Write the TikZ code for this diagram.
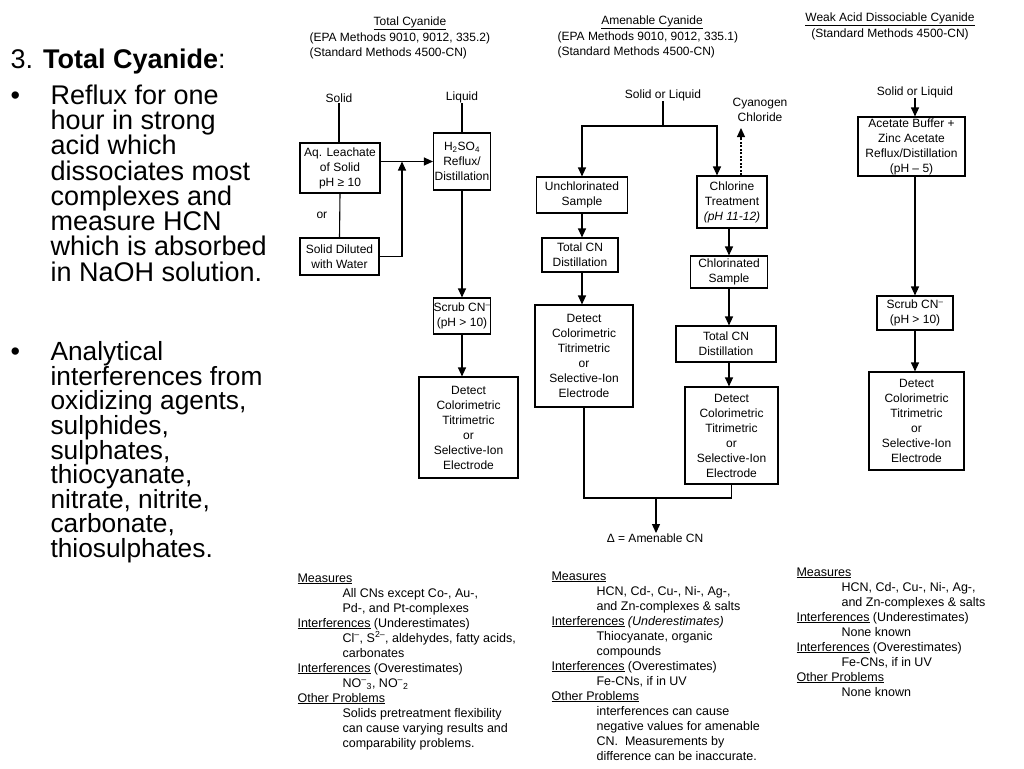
\documentclass[tikz,border=0pt]{standalone}
\usepackage{fontspec}
\setmainfont{Liberation Sans}
\usetikzlibrary{arrows.meta, positioning, calc}

\newcommand\chartfont{\fontsize{12}{15}\selectfont}
\newcommand\notefont{\fontsize{12.5}{15}\selectfont}
\newcommand\slidefont{\fontsize{27}{25.3}\selectfont}
\newcommand\noteind{\hspace*{45pt}}

\begin{document}
\begin{tikzpicture}[x=1pt, y=-1pt, line width=1.1pt, >={Triangle[length=9pt,width=8pt]},
    stepbox/.style={draw, align=center, inner sep=0pt, font=\chartfont},
    lbl/.style={align=center, inner sep=0pt, font=\chartfont},
    note/.style={align=left, inner sep=0pt, anchor=north west, font=\notefont},
    slide/.style={align=left, inner sep=0pt, font=\slidefont}]

  \useasboundingbox (0,0) rectangle (1024,768);

  % slide text
  \node[slide, anchor=base west] (head) at (10,68) {3. \textbf{Total Cyanide}:};
  \node[slide, anchor=base west] (dotA) at (10,104) {\textbullet};
  \node[slide, anchor=north west] (bulA) at (50,84) {Reflux for one\\hour in strong\\acid which\\dissociates most\\complexes and\\measure HCN\\which is absorbed\\in NaOH solution.};
  \node[slide, anchor=base west] (dotB) at (10,360) {\textbullet};
  \node[slide, anchor=north west, font=\fontsize{26.3}{24.6}\selectfont] (bulB) at (50,341) {Analytical\\interferences from\\oxidizing agents,\\sulphides,\\sulphates,\\thiocyanate,\\nitrate, nitrite,\\carbonate,\\thiosulphates.};

  % total cyanide
  \node[lbl] (tcTitle) at (410,23) {\underline{Total Cyanide}};
  \node[lbl, anchor=west, align=left] (tcRef) at (309,45.5) {(EPA Methods 9010, 9012, 335.2)\\(Standard Methods 4500-CN)};
  \node[lbl] (tcSolid) at (339,98) {Solid};
  \node[lbl] (tcLiquid) at (462,97) {Liquid};
  \node[stepbox, minimum width=80, minimum height=50] (aq) at (340,168) {Aq. Leachate\\of Solid\\pH ≥ 10};
  \node[stepbox, minimum width=57, minimum height=57] (hso) at (462,161.5) {H\textsubscript{2}SO\textsubscript{4}\\Reflux/\\Distillation};
  \node[stepbox, minimum width=79, minimum height=37] (dil) at (339.5,256.5) {Solid Diluted\\with Water};
  \node[stepbox, minimum width=57, minimum height=36] (scrubA) at (462,316) {Scrub CN\textsuperscript{--}\\(pH > 10)};
  \node[stepbox, minimum width=99, minimum height=101] (detA) at (468.5,427.5) {Detect\\Colorimetric\\Titrimetric\\or\\Selective-Ion\\Electrode};
  \coordinate (tcJoin) at (402,161.5);

  \draw (tcSolid.south) -- (tcSolid.south |- aq.north);
  \draw (tcLiquid.south) -- (hso.north);
  \draw[->] (aq.east |- hso.west) -- (hso.west);
  \draw (aq.south) -- node[lbl, left=12pt] (orLbl) {or} (dil.north);
  \draw[->] (dil.east) -| (tcJoin);
  \draw[->] (hso.south) -- (scrubA.north);
  \draw[->] (scrubA.south) -- (scrubA.south |- detA.north);

  % amenable cyanide
  \node[lbl] (acTitle) at (652,22) {\underline{Amenable Cyanide}};
  \node[lbl, anchor=west, align=left] (acRef) at (557,44.5) {(EPA Methods 9010, 9012, 335.1)\\(Standard Methods 4500-CN)};
  \node[lbl] (acIn) at (663,95) {Solid or Liquid};
  \node[lbl] (cncl) at (760,110) {Cyanogen\\Chloride};
  \coordinate (acSplit) at (663,126);
  \coordinate (cnclTip) at (741,128);
  \node[stepbox, minimum width=91, minimum height=36] (unch) at (582,195) {Unchlorinated\\Sample};
  \node[stepbox, minimum width=76, minimum height=34] (totA) at (580,255) {Total CN\\Distillation};
  \node[stepbox, minimum width=98, minimum height=102] (detB) at (584,356) {Detect\\Colorimetric\\Titrimetric\\or\\Selective-Ion\\Electrode};
  \node[stepbox, minimum width=70, minimum height=52] (chl) at (732,202) {Chlorine\\Treatment\\\textit{(pH 11-12)}};
  \node[stepbox, minimum width=77, minimum height=32] (chld) at (729,272) {Chlorinated\\Sample};
  \node[stepbox, minimum width=100, minimum height=36] (totB) at (726,344) {Total CN\\Distillation};
  \node[stepbox, minimum width=93, minimum height=97] (detC) at (731.5,435.5) {Detect\\Colorimetric\\Titrimetric\\or\\Selective-Ion\\Electrode};
  \node[lbl] (amen) at (655,538) {Δ = Amenable CN};
  \coordinate (acMerge) at (656,498);

  \draw (acIn.south) -- (acSplit);
  \draw[->] (acSplit) -| (unch.north);
  \draw[->] (acSplit) -| ([xshift=-15pt]chl.north);
  \draw[->, dash pattern=on 2pt off 1.5pt] (cnclTip |- chl.north) -- (cnclTip);
  \draw[->] (unch.south) -- (unch.south |- totA.north);
  \draw[->] (unch.south |- totA.south) -- (unch.south |- detB.north);
  \draw[->] (chld.north |- chl.south) -- (chld.north);
  \draw[->] (chld.south) -- (chld.south |- totB.north);
  \draw[->] (chld.south |- totB.south) -- (chld.south |- detC.north);
  \draw (detB.south) |- (acMerge) -| (detC.south);
  \draw[->] (acMerge) -- (acMerge |- amen.north);

  % weak acid dissociable cyanide
  \node[lbl] (wadTitle) at (890,19) {\underline{Weak Acid Dissociable Cyanide}};
  \node[lbl] (wadRef) at (890,34) {(Standard Methods 4500-CN)};
  \node[lbl] (wadIn) at (915,92) {Solid or Liquid};
  \node[stepbox, minimum width=107, minimum height=59] (acet) at (911.5,146.5) {Acetate Buffer +\\Zinc Acetate\\Reflux/Distillation\\(pH -- 5)};
  \node[stepbox, minimum width=76, minimum height=34] (scrubB) at (915,313) {Scrub CN\textsuperscript{--}\\(pH > 10)};
  \node[stepbox, minimum width=95, minimum height=98] (detD) at (916.5,421) {Detect\\Colorimetric\\Titrimetric\\or\\Selective-Ion\\Electrode};

  \draw[->] (wadIn.south) -- (wadIn.south |- acet.north);
  \draw[->] (wadIn.south |- acet.south) -- (scrubB.north);
  \draw[->] (scrubB.south) -- (scrubB.south |- detD.north);

  % notes
  \node[note] (tcNote) at (297,573) {\underline{Measures}\\\noteind All CNs except Co-, Au-,\\\noteind Pd-, and Pt-complexes\\\underline{Interferences} (Underestimates)\\\noteind Cl\textsuperscript{--}, S\textsuperscript{2--}, aldehydes, fatty acids,\\\noteind carbonates\\\underline{Interferences} (Overestimates)\\\noteind NO\textsuperscript{--}\textsubscript{3}, NO\textsuperscript{--}\textsubscript{2}\\\underline{Other Problems}\\\noteind Solids pretreatment flexibility\\\noteind can cause varying results and\\\noteind comparability problems.};
  \node[note] (acNote) at (551,571) {\underline{Measures}\\\noteind HCN, Cd-, Cu-, Ni-, Ag-,\\\noteind and Zn-complexes \& salts\\\underline{Interferences} \textit{(Underestimates)}\\\noteind Thiocyanate, organic\\\noteind compounds\\\underline{Interferences} (Overestimates)\\\noteind Fe-CNs, if in UV\\\underline{Other Problems}\\\noteind interferences can cause\\\noteind negative values for amenable\\\noteind CN.\ \ Measurements by\\\noteind difference can be inaccurate.};
  \node[note] (wadNote) at (796,567) {\underline{Measures}\\\noteind HCN, Cd-, Cu-, Ni-, Ag-,\\\noteind and Zn-complexes \& salts\\\underline{Interferences} (Underestimates)\\\noteind None known\\\underline{Interferences} (Overestimates)\\\noteind Fe-CNs, if in UV\\\underline{Other Problems}\\\noteind None known};
\end{tikzpicture}
\end{document}
